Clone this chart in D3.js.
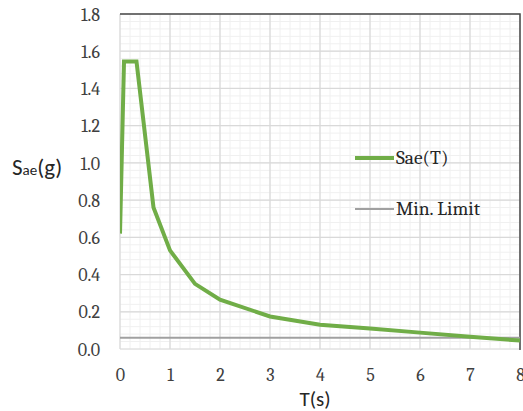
<!DOCTYPE html>
<html>
<head>
<meta charset="utf-8">
<script src="https://cdn.jsdelivr.net/npm/d3@7"></script>
<style>
  html, body { margin: 0; padding: 0; background: #fff; }
  svg { display: block; }
</style>
</head>
<body>
<svg id="chart" width="523" height="411"></svg>
<script>
// Elastic design spectrum Sae(T) and the minimum limit
const periods = [0, 0.08, 0.33, 0.67, 1, 1.5, 2, 3, 4, 5, 6, 7, 8];
const saeValues = [0.62, 1.545, 1.545, 0.76, 0.53, 0.35, 0.265, 0.175, 0.13, 0.11, 0.088, 0.066, 0.045];
const minLimit = 0.06;
const xTicks = [0, 1, 2, 3, 4, 5, 6, 7, 8];
const yTicks = [0, 0.2, 0.4, 0.6, 0.8, 1.0, 1.2, 1.4, 1.6, 1.8];
const seriesNames = ["Sae(T)", "Min. Limit"];

const svg = d3.select("#chart");
const plotLeft = 120, plotRight = 520, plotTop = 14, plotBottom = 349;

const x = d3.scaleLinear().domain([0, 8]).range([plotLeft, plotRight]);
const y = d3.scaleLinear().domain([0, 1.8]).range([plotBottom, plotTop]);

const serif = "Cambria, 'DejaVu Serif', serif";
const sans = "Calibri, Carlito, 'Open Sans', 'Liberation Sans', sans-serif";

// minor grid
const g = svg.append("g");
g.selectAll("line.mx").data(d3.range(0, 8.0001, 0.2)).join("line")
  .attr("x1", d => x(d)).attr("x2", d => x(d))
  .attr("y1", plotTop).attr("y2", plotBottom)
  .attr("stroke", "#f0f0f0").attr("stroke-width", 1);
g.selectAll("line.my").data(d3.range(0, 1.8001, 0.04)).join("line")
  .attr("y1", d => y(d)).attr("y2", d => y(d))
  .attr("x1", plotLeft).attr("x2", plotRight)
  .attr("stroke", "#f0f0f0").attr("stroke-width", 1);

// major grid
g.selectAll("line.Mx").data(xTicks).join("line")
  .attr("x1", d => x(d)).attr("x2", d => x(d))
  .attr("y1", plotTop).attr("y2", plotBottom)
  .attr("stroke", "#d9d9d9").attr("stroke-width", 1.2);
g.selectAll("line.My").data(yTicks).join("line")
  .attr("y1", d => y(d)).attr("y2", d => y(d))
  .attr("x1", plotLeft).attr("x2", plotRight)
  .attr("stroke", "#d9d9d9").attr("stroke-width", 1.2);

// plot frame: top and right edges
svg.append("path")
  .attr("d", `M${plotLeft},${plotTop}H${plotRight}V${plotBottom + 1}`)
  .attr("fill", "none").attr("stroke", "#4a4a4a").attr("stroke-width", 1.5);

// axes (labels only)
const xAxis = d3.axisBottom(x).tickValues(xTicks).tickFormat(d3.format("d")).tickSize(0).tickPadding(0);
const xa = svg.append("g").attr("transform", `translate(0,${plotBottom})`).call(xAxis);
xa.select(".domain").remove();
xa.selectAll("text").attr("dy", null).attr("y", 32)
  .attr("font-family", serif).attr("font-size", 18).attr("fill", "#404040");

const yAxis = d3.axisLeft(y).tickValues(yTicks).tickFormat(d3.format(".1f")).tickSize(0).tickPadding(0);
const ya = svg.append("g").attr("transform", `translate(${plotLeft},0)`).call(yAxis);
ya.select(".domain").remove();
ya.selectAll("text").attr("x", -20).attr("dy", "0.34em")
  .attr("font-family", serif).attr("font-size", 18).attr("fill", "#404040");

// clip for the series
svg.append("clipPath").attr("id", "plotClip")
  .append("rect").attr("x", plotLeft).attr("y", plotTop - 5)
  .attr("width", plotRight - plotLeft).attr("height", plotBottom - plotTop + 10);

// min limit
svg.append("line")
  .attr("x1", x(0)).attr("x2", x(8))
  .attr("y1", y(minLimit)).attr("y2", y(minLimit))
  .attr("stroke", "#a0a0a0").attr("stroke-width", 2);

// Sae(T) curve
const line = d3.line().x((d, i) => x(periods[i])).y(d => y(d));
svg.append("path")
  .datum(saeValues)
  .attr("clip-path", "url(#plotClip)")
  .attr("d", line)
  .attr("fill", "none")
  .attr("stroke", "#70ad47")
  .attr("stroke-width", 4)
  .attr("stroke-linejoin", "miter");

// legend
const legend = svg.append("g");
const legendRows = [
  { name: seriesNames[0], color: "#70ad47", width: 4, y: 158 },
  { name: seriesNames[1], color: "#a0a0a0", width: 2, y: 209 }
];
legendRows.forEach(r => {
  legend.append("line").attr("x1", 355).attr("x2", 394).attr("y1", r.y).attr("y2", r.y)
    .attr("stroke", r.color).attr("stroke-width", r.width);
  legend.append("text").attr("x", 396).attr("y", r.y + 6)
    .attr("font-family", serif).attr("font-size", 19.5).attr("fill", "#262626")
    .text(r.name);
});

// axis titles
const yt = svg.append("text").attr("x", 12).attr("y", 175)
  .attr("font-family", sans).attr("font-size", 23).attr("fill", "#262626");
yt.append("tspan").text("S");
yt.append("tspan").attr("font-size", 15).text("ae");
yt.append("tspan").text("(g)");

svg.append("text").attr("x", 315).attr("y", 406).attr("text-anchor", "middle")
  .attr("font-family", sans).attr("font-size", 21).attr("fill", "#262626")
  .text("T(s)");
</script>
</body>
</html>
